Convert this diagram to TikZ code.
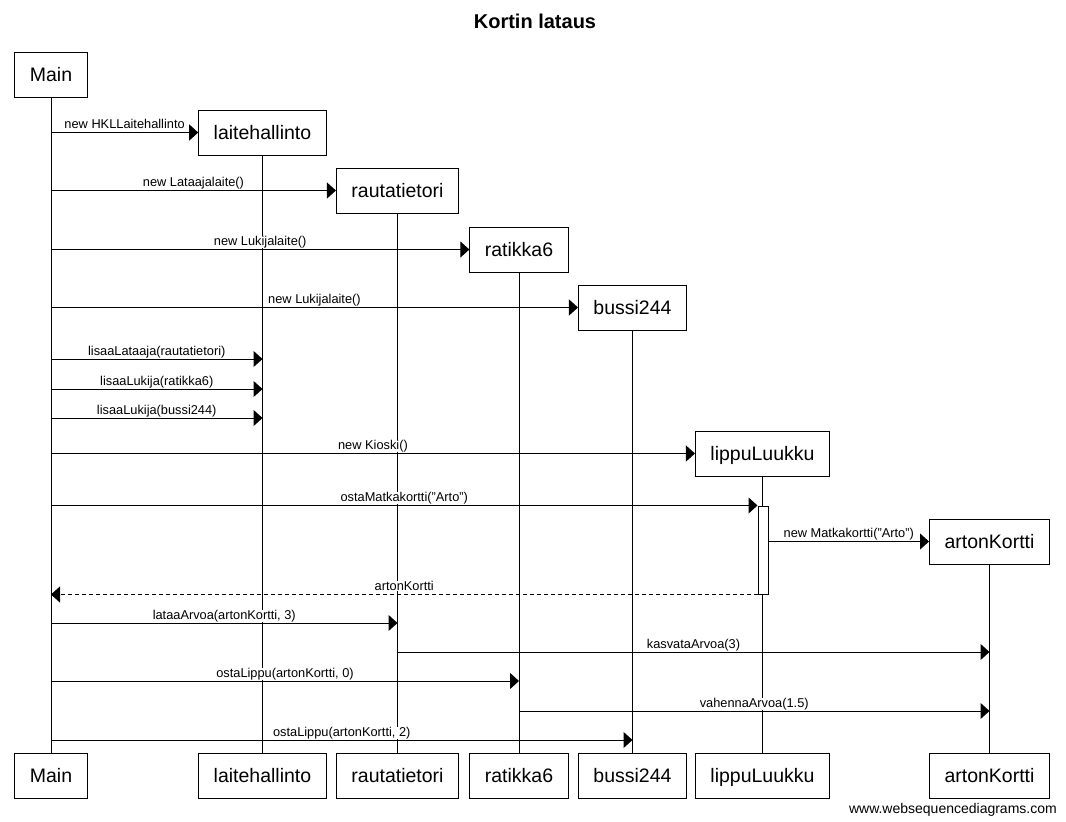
\documentclass[tikz,border=0pt]{standalone}
\usepackage{fontspec}
\setmainfont{Liberation Sans}
\usetikzlibrary{arrows.meta}
\tikzset{
  obj/.style={draw, line width=1pt, fill=white, minimum height=45pt, inner xsep=15pt, inner ysep=0pt,
    text height=14.4pt, text depth=0pt, font=\fontsize{19.5}{20}\selectfont},
  actbox/.style={draw, line width=1pt, fill=white, minimum width=10pt, minimum height=88pt, inner sep=0pt},
  msg/.style={line width=1pt, -{Triangle[length=9pt 0 0,width=16pt 0 0]}},
  reply/.style={msg, dash pattern=on 4pt off 3pt},
  lbl/.style={anchor=base, yshift=4pt, inner sep=0pt, fill=white, font=\fontsize{12.8}{13}\selectfont}
}
\begin{document}
\begin{tikzpicture}[x=1pt,y=-1pt]
			\useasboundingbox (0,0) rectangle (1066,822);

			\node[anchor=base, font=\fontsize{20}{24}\selectfont\bfseries] at (535,28.3) (title) {Kortin lataus};

			\node[obj] at (51,74.5) (main) {Main};
			\node[obj] at (262.5,132.5) (laite) {laitehallinto};
			\node[obj] at (397.5,190.5) (rauta) {rautatietori};
			\node[obj] at (519,249.5) (ratikka) {ratikka6};
			\node[obj] at (632.5,307.5) (bussi) {bussi244};
			\node[obj] at (762.5,453.5) (luukku) {lippuLuukku};
			\node[obj] at (989.5,541.5) (kortti) {artonKortti};

			\foreach \n/\x/\t in {main/51/Main, laite/262.5/laitehallinto, rauta/397.5/rautatietori,
				ratikka/519/ratikka6, bussi/632.5/bussi244, luukku/762.5/lippuLuukku, kortti/989.5/artonKortti}
				{   \node[obj] at (\x,775.5) (\n-b) {\t};
					\draw[line width=1pt] (\n.south) -- (\n-b.north);
				}

			\node[actbox] at (763,550) (activ) {};

			\coordinate (r5) at (0,359);
			\coordinate (r6) at (0,389);
			\coordinate (r7) at (0,418);
			\coordinate (r12) at (0,623);
			\coordinate (r13) at (0,652);
			\coordinate (r14) at (0,681);
			\coordinate (r15) at (0,711);
			\coordinate (r16) at (0,740);

			\draw[msg] (main |- laite) -- (laite.west) node[midway,lbl] {new HKLLaitehallinto};
			\draw[msg] (main |- rauta) -- (rauta.west) node[midway,lbl] {new Lataajalaite()};
			\draw[msg] (main |- ratikka) -- (ratikka.west) node[midway,lbl] {new Lukijalaite()};
			\draw[msg] (main |- bussi) -- (bussi.west) node[midway,lbl] {new Lukijalaite()};
			\draw[msg] (main |- r5) -- (laite |- r5) node[midway,lbl] {lisaaLataaja(rautatietori)};
			\draw[msg] (main |- r6) -- (laite |- r6) node[midway,lbl] {lisaaLukija(ratikka6)};
			\draw[msg] (main |- r7) -- (laite |- r7) node[midway,lbl] {lisaaLukija(bussi244)};
			\draw[msg] (main |- luukku) -- (luukku.west) node[midway,lbl] {new Kioski()};
			\draw[msg] (main |- activ.north west) -- (activ.north west) node[midway,lbl] {ostaMatkakortti("Arto")};
			\draw[msg] (activ.east |- kortti) -- (kortti.west) node[midway,lbl] {new Matkakortti("Arto")};
			\draw[reply] (activ.south west) -- (main |- activ.south west) node[midway,lbl] {artonKortti};
			\draw[msg] (main |- r12) -- (rauta |- r12) node[midway,lbl] {lataaArvoa(artonKortti, 3)};
			\draw[msg] (rauta |- r13) -- (kortti |- r13) node[midway,lbl] {kasvataArvoa(3)};
			\draw[msg] (main |- r14) -- (ratikka |- r14) node[midway,lbl] {ostaLippu(artonKortti, 0)};
			\draw[msg] (ratikka |- r15) -- (kortti |- r15) node[midway,lbl] {vahennaArvoa(1.5)};
			\draw[msg] (main |- r16) -- (bussi |- r16) node[midway,lbl] {ostaLippu(artonKortti, 2)};

			\node[anchor=base east, inner sep=0pt, font=\fontsize{14}{16}\selectfont] at (1057,813) (footer) {www.websequencediagrams.com};
		\end{tikzpicture}
\end{document}
